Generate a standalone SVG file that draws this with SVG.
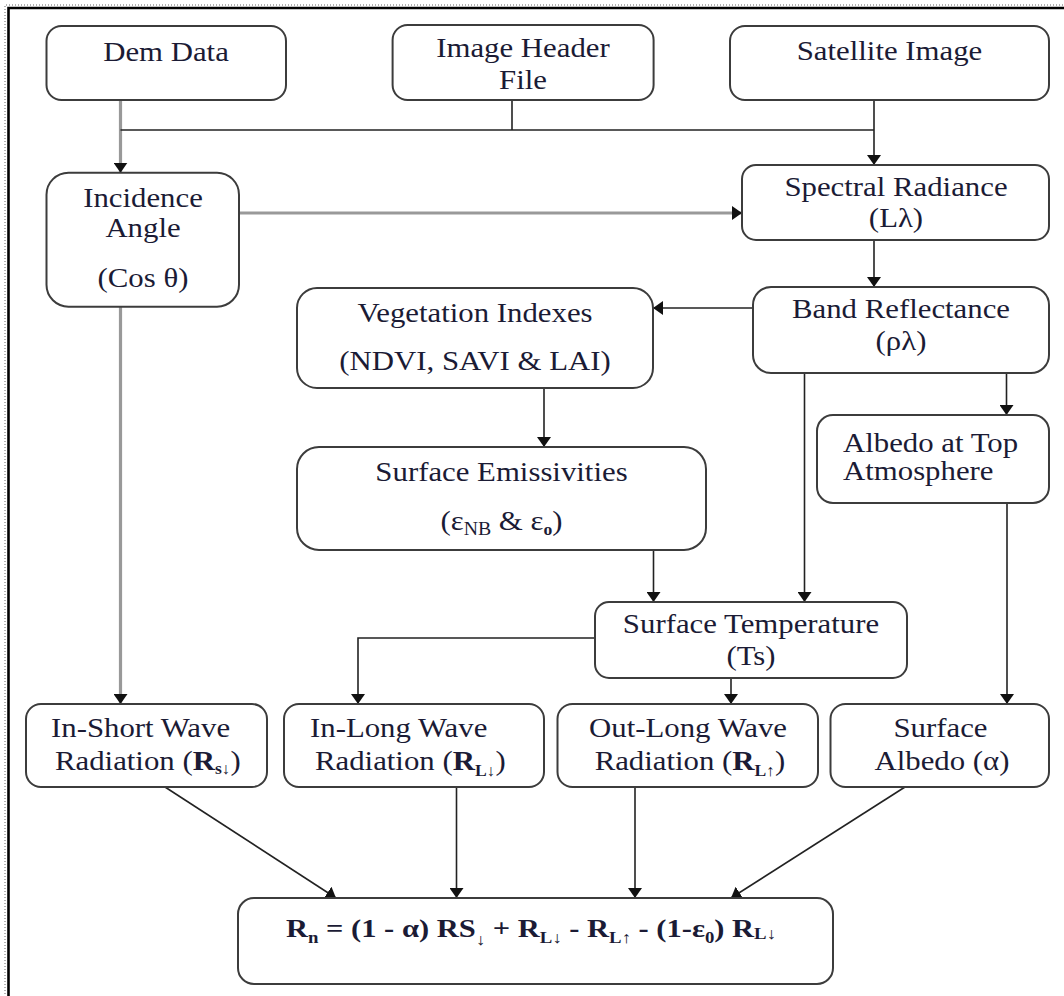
<svg xmlns="http://www.w3.org/2000/svg" width="1064" height="996" viewBox="0 0 1064 996">
<style>
.box{fill:#fff;stroke:#3c3c3c;stroke-width:2}
.t{font-family:"Liberation Serif","Times New Roman",serif;font-size:28px;fill:#1b1b35}
.m{text-anchor:middle}
.s{font-size:16px;font-weight:bold}
.b{font-weight:bold}
.f{font-family:"Liberation Serif","Times New Roman",serif;font-size:26px;font-weight:bold;fill:#1b1b35}
.c{fill:none;stroke:#222;stroke-width:1.6}
.g{fill:none;stroke:#999;stroke-width:3.2}
</style>
<defs>
<marker id="ah" viewBox="0 0 10 14" markerWidth="10" markerHeight="14" refX="10" refY="7" orient="auto" markerUnits="userSpaceOnUse">
<path d="M0,0 L10,7 L0,14 z" fill="#111"/>
</marker>
</defs>
<rect width="1064" height="996" fill="#fff"/>
<g id="frame">
<path d="M5,1000 V5 H1064" fill="none" stroke="#666" stroke-width="1" stroke-dasharray="1 2"/>
<path d="M8.5,1000 V8 H1064" fill="none" stroke="#000" stroke-width="2.6"/>
</g>
<g id="connectors">
<path class="g" d="M120.5,100 V172.7" marker-end="url(#ah)"/>
<path class="c" d="M120.5,130 H874"/>
<path class="c" d="M512,100 V130"/>
<path class="c" d="M874,100 V165" marker-end="url(#ah)"/>
<path class="g" d="M239,213 H742" marker-end="url(#ah)"/>
<path class="c" d="M874,240 V287" marker-end="url(#ah)"/>
<path class="c" d="M753,308 H653" marker-end="url(#ah)"/>
<path class="c" d="M544,388 V447" marker-end="url(#ah)"/>
<path class="c" d="M804.5,373 V602" marker-end="url(#ah)"/>
<path class="c" d="M1006.5,373 V415" marker-end="url(#ah)"/>
<path class="c" d="M653.5,550 V602" marker-end="url(#ah)"/>
<path class="g" d="M120.5,307 V704" marker-end="url(#ah)"/>
<path class="c" d="M595,638 H358 V704" marker-end="url(#ah)"/>
<path class="c" d="M731,678 V704" marker-end="url(#ah)"/>
<path class="c" d="M1007,503 V704" marker-end="url(#ah)"/>
<path class="c" d="M165,787 L336,898" marker-end="url(#ah)"/>
<path class="c" d="M456.5,787 V898" marker-end="url(#ah)"/>
<path class="c" d="M635,787 V898" marker-end="url(#ah)"/>
<path class="c" d="M905,787 L731,898" marker-end="url(#ah)"/>
</g>
<g id="dem">
<rect class="box" x="46.5" y="26" width="239.5" height="74" rx="15"/>
<text class="t m" transform="matrix(1.1 0 0 1 166 61)">Dem Data</text>
</g>
<g id="header">
<rect class="box" x="392.6" y="25" width="261" height="75" rx="15"/>
<text class="t m" transform="matrix(1.1 0 0 1 523 57)">Image Header</text>
<text class="t m" transform="matrix(1.1 0 0 1 523 89)">File</text>
</g>
<g id="satellite">
<rect class="box" x="730" y="26" width="319" height="74" rx="15"/>
<text class="t m" transform="matrix(1.1 0 0 1 889.5 60)">Satellite Image</text>
</g>
<g id="incidence">
<rect class="box" x="46.5" y="172.7" width="192.5" height="134" rx="22"/>
<text class="t m" transform="matrix(1.1 0 0 1 143 206.7)">Incidence</text>
<text class="t m" transform="matrix(1.1 0 0 1 143 237.3)">Angle</text>
<text class="t m" transform="matrix(1.1 0 0 1 143 287)">(Cos θ)</text>
</g>
<g id="spectral">
<rect class="box" x="742" y="165" width="307" height="75" rx="14"/>
<text class="t m" transform="matrix(1.1 0 0 1 896 196)">Spectral Radiance</text>
<text class="t m" transform="matrix(1.1 0 0 1 896 227)">(Lλ)</text>
</g>
<g id="band">
<rect class="box" x="753" y="287" width="296" height="86" rx="18"/>
<text class="t m" transform="matrix(1.1 0 0 1 901 318)">Band Reflectance</text>
<text class="t m" transform="matrix(1.1 0 0 1 901 350)">(ρλ)</text>
</g>
<g id="vegetation">
<rect class="box" x="297" y="288" width="356" height="100" rx="20"/>
<text class="t m" transform="matrix(1.1 0 0 1 475 322)">Vegetation Indexes</text>
<text class="t m" transform="matrix(1.1 0 0 1 475 370)">(NDVI, SAVI &amp; LAI)</text>
</g>
<g id="albedo-top">
<rect class="box" x="817" y="415" width="232" height="88" rx="16"/>
<text class="t" transform="matrix(1.1 0 0 1 843 452)">Albedo at Top</text>
<text class="t" transform="matrix(1.1 0 0 1 843 480)">Atmosphere</text>
</g>
<g id="emissivities">
<rect class="box" x="297" y="447" width="409" height="103" rx="22"/>
<text class="t m" transform="matrix(1.1 0 0 1 501.5 481)">Surface Emissivities</text>
<text class="t m" transform="matrix(1.1 0 0 1 501.5 530)">(ε<tspan font-size="18px" dy="5">NB</tspan><tspan dy="-5"> &amp; ε</tspan><tspan font-size="16px" font-weight="bold" dy="5">o</tspan><tspan dy="-5">)</tspan></text>
</g>
<g id="surface-temp">
<rect class="box" x="595" y="602" width="312" height="76" rx="14"/>
<text class="t m" transform="matrix(1.1 0 0 1 751 633)">Surface Temperature</text>
<text class="t m" transform="matrix(1.1 0 0 1 751 665)">(Ts)</text>
</g>
<g id="in-short">
<rect class="box" x="26" y="704" width="241" height="83" rx="15"/>
<text class="t" transform="matrix(1.1 0 0 1 51 737)">In-Short Wave</text>
<text class="t" transform="matrix(1.1 0 0 1 55 770)">Radiation (<tspan class="b">R</tspan><tspan class="s" dy="4">s↓</tspan><tspan dy="-4">)</tspan></text>
</g>
<g id="in-long">
<rect class="box" x="284" y="704" width="260" height="83" rx="15"/>
<text class="t" transform="matrix(1.1 0 0 1 310 737)">In-Long Wave</text>
<text class="t" transform="matrix(1.1 0 0 1 315 770)">Radiation (<tspan class="b">R</tspan><tspan class="s" dy="6">L↓</tspan><tspan dy="-6">)</tspan></text>
</g>
<g id="out-long">
<rect class="box" x="557.5" y="704" width="260.5" height="83" rx="15"/>
<text class="t m" transform="matrix(1.1 0 0 1 688 737)">Out-Long Wave</text>
<text class="t m" transform="matrix(1.1 0 0 1 690 770)">Radiation (<tspan class="b">R</tspan><tspan class="s" dy="6">L↑</tspan><tspan dy="-6">)</tspan></text>
</g>
<g id="surface-albedo">
<rect class="box" x="830.5" y="704" width="218.5" height="83" rx="15"/>
<text class="t m" transform="matrix(1.1 0 0 1 940.5 737)">Surface</text>
<text class="t m" transform="matrix(1.1 0 0 1 942 770)">Albedo (α)</text>
</g>
<g id="net-radiation">
<rect class="box" x="238" y="898" width="595" height="86" rx="16"/>
<text class="f" x="286" y="937" textLength="490" lengthAdjust="spacingAndGlyphs">R<tspan class="s" dy="6">n</tspan><tspan dy="-6"> = (1 - α) RS</tspan><tspan class="s" dy="8">↓</tspan><tspan dy="-8"> + R</tspan><tspan class="s" dy="6">L↓</tspan><tspan dy="-6"> - R</tspan><tspan class="s" dy="6">L↑</tspan><tspan dy="-6"> - (1-ε</tspan><tspan class="s" dy="6">0</tspan><tspan dy="-6">) R</tspan><tspan class="s" dy="2">L↓</tspan></text>
</g>
</svg>
